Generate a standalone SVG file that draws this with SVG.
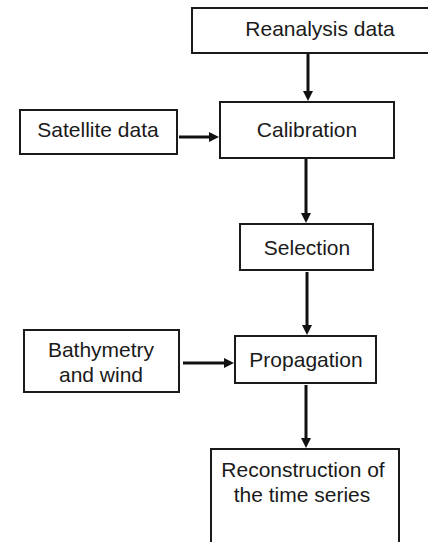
<svg xmlns="http://www.w3.org/2000/svg" width="428" height="542" viewBox="0 0 428 542">
<style>
.box{fill:#fff;stroke:#1a1a1a;stroke-width:2}
.lbl{font-family:"Liberation Sans",Arial,sans-serif;font-size:21px;fill:#1a1a1a;text-anchor:middle}
.con{stroke:#111;stroke-width:3;fill:none}
</style>
<defs>
<marker id="ah" markerUnits="userSpaceOnUse" markerWidth="10" markerHeight="10" refX="4" refY="5" orient="auto">
<path d="M0,0 L10,5 L0,10 z" fill="#111"/>
</marker>
</defs>
<rect width="428" height="542" fill="#fff"/>
<g id="connectors">
<line class="con" x1="308" y1="54" x2="308" y2="95" marker-end="url(#ah)"/>
<line class="con" x1="179" y1="137" x2="213" y2="137" marker-end="url(#ah)"/>
<line class="con" x1="306" y1="159" x2="306" y2="217" marker-end="url(#ah)"/>
<line class="con" x1="307" y1="272" x2="307" y2="329" marker-end="url(#ah)"/>
<line class="con" x1="183" y1="363" x2="228" y2="363" marker-end="url(#ah)"/>
<line class="con" x1="306" y1="385" x2="306" y2="442" marker-end="url(#ah)"/>
</g>
<g id="reanalysis">
<rect class="box" x="192" y="8" width="240" height="45"/>
<text class="lbl" x="320" y="36">Reanalysis data</text>
</g>
<g id="satellite">
<rect class="box" x="20" y="110" width="157" height="44"/>
<text class="lbl" x="98" y="137">Satellite data</text>
</g>
<g id="calibration">
<rect class="box" x="220" y="102" width="174" height="56"/>
<text class="lbl" x="307" y="137">Calibration</text>
</g>
<g id="selection">
<rect class="box" x="240" y="224" width="133" height="46"/>
<text class="lbl" x="307" y="255">Selection</text>
</g>
<g id="bathymetry">
<rect class="box" x="24" y="330" width="155" height="62"/>
<text class="lbl" x="101" y="357">Bathymetry</text>
<text class="lbl" x="101" y="382">and wind</text>
</g>
<g id="propagation">
<rect class="box" x="235" y="336" width="141" height="47"/>
<text class="lbl" x="306" y="367">Propagation</text>
</g>
<g id="reconstruction">
<rect class="box" x="211" y="449" width="188" height="100"/>
<text class="lbl" x="303" y="477">Reconstruction of</text>
<text class="lbl" x="302" y="502">the time series</text>
</g>
</svg>
